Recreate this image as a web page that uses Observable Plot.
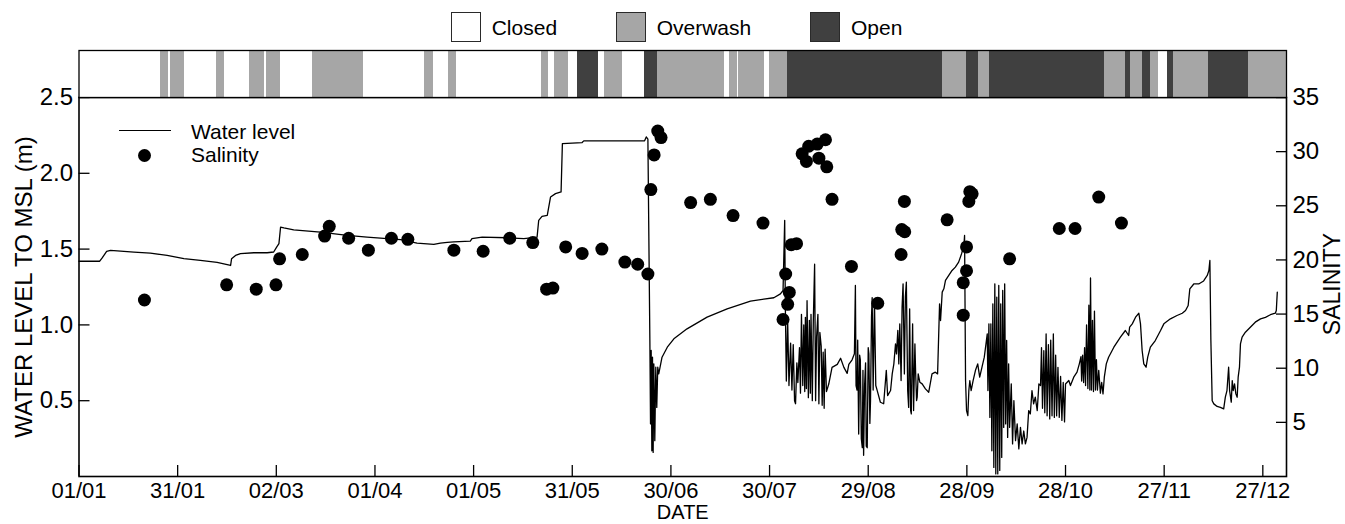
<!DOCTYPE html>
<html><head><meta charset="utf-8">
<script src="https://cdn.jsdelivr.net/npm/d3@7"></script>
<script src="https://cdn.jsdelivr.net/npm/@observablehq/plot@0.6"></script>
<style>
body{margin:0;background:#fff;font-family:"Liberation Sans",Arial,sans-serif;}
#wrap{position:relative;width:1345px;height:524px;overflow:hidden;background:#fff;}
#wrap svg{position:absolute;left:0;top:0;}
.lg{position:absolute;font-size:21px;line-height:21px;color:#000;white-space:nowrap;}
.sw{position:absolute;width:30px;height:30px;box-sizing:border-box;border:1.5px solid #2a2a2a;}
</style></head><body><div id="wrap"></div>
<script>
// x = day of year (0 = 01/01), non-leap year
const xTickDays = [0, 30, 60, 90, 120, 150, 180, 210, 240, 270, 300, 330, 360];
const xTickLabels = ["01/01","31/01","02/03","01/04","01/05","31/05","30/06","30/07","29/08","28/09","28/10","27/11","27/12"];
const levelTicks = [0.5, 1.0, 1.5, 2.0, 2.5];
const salinityTicks = [5, 10, 15, 20, 25, 30, 35];

const stateNames = ["Closed", "Overwash", "Open"];
const stateColors = ["#ffffff", "#a6a6a6", "#404040"];

// [start day, end day, state]
const stateSegments = [
  [0,24.8,"Closed"],[24.8,27.1,"Overwash"],[27.1,27.8,"Closed"],[27.8,32.1,"Overwash"],
  [32.1,41.8,"Closed"],[41.8,44.2,"Overwash"],[44.2,51.8,"Closed"],[51.8,56.4,"Overwash"],
  [56.4,57.0,"Closed"],[57.0,61.3,"Overwash"],[61.3,71.0,"Closed"],[71.0,86.5,"Overwash"],
  [86.5,105.1,"Closed"],[105.1,107.8,"Overwash"],[107.8,112.4,"Closed"],[112.4,114.8,"Overwash"],
  [114.8,140.6,"Closed"],[140.6,142.9,"Overwash"],[142.9,144.6,"Closed"],[144.6,148.8,"Overwash"],
  [148.8,151.6,"Closed"],[151.6,158.0,"Open"],[158.0,159.8,"Closed"],[159.8,165.3,"Overwash"],
  [165.3,172.0,"Closed"],[172.0,175.9,"Open"],[175.9,196.3,"Overwash"],[196.3,197.9,"Closed"],
  [197.9,200.2,"Overwash"],[200.2,200.5,"Closed"],[200.5,208.4,"Overwash"],[208.4,210.1,"Closed"],
  [210.1,215.6,"Overwash"],[215.6,262.5,"Open"],[262.5,269.9,"Overwash"],[269.9,273.5,"Open"],
  [273.5,277.0,"Overwash"],[277.0,311.8,"Open"],[311.8,318.2,"Overwash"],[318.2,319.7,"Open"],
  [319.7,323.4,"Overwash"],[323.4,325.8,"Open"],[325.8,328.3,"Overwash"],[328.3,331.0,"Closed"],
  [331.0,332.8,"Open"],[332.8,343.5,"Overwash"],[343.5,355.6,"Open"],[355.6,367.2,"Overwash"]
];

// [day, water level to MSL (m)]
const waterLevel = [
  [0,1.42],[6.3,1.42],[7.0,1.44],[8.4,1.485],[9.6,1.491],[16.7,1.48],[21.7,1.474],[26.8,1.458],
  [31.9,1.437],[36.9,1.425],[42.0,1.412],[46.1,1.392],[46.4,1.437],[47.6,1.458],[49.1,1.47],
  [53.2,1.476],[57.2,1.476],[59.2,1.481],[60.1,1.513],[60.8,1.536],[61.3,1.645],[62.3,1.64],
  [65.3,1.627],[73.4,1.612],[81.6,1.59],[87.6,1.579],[92.7,1.571],[97.8,1.562],[102.8,1.54],
  [107.9,1.531],[109.9,1.54],[112.0,1.545],[114.0,1.547],[119.0,1.553],[119.5,1.569],[122.6,1.579],
  [130.2,1.575],[135.3,1.569],[139.3,1.579],[139.8,1.69],[140.8,1.716],[142.4,1.723],[143.4,1.844],
  [144.9,1.866],[146.6,1.877],[147.0,2.196],[153.0,2.203],[153.5,2.214],[172.0,2.214],[172.5,2.24],
  [173.0,2.225],[173.6,0.897],[173.8,0.347],[174.0,0.831],[174.2,0.17],[174.4,0.787],[174.6,0.159],
  [174.8,0.743],[175.1,0.236],[175.4,0.721],[175.7,0.456],[176.0,0.721],[176.3,0.677],[177.3,0.787],
  [178.9,0.853],[180.9,0.908],[184.9,0.974],[191.0,1.051],[197.1,1.106],[204.2,1.157],[211.3,1.179],
  [213.3,1.205],[214.1,1.227],[214.6,1.69],[214.8,1.12],[215.1,0.63],[215.5,1.03],[215.9,0.6],
  [216.4,0.88],[216.8,0.57],[217.2,0.87],[217.6,0.5],[217.9,0.48],[218.3,0.75],[218.6,0.62],
  [219.1,0.85],[219.4,0.55],[219.7,1.07],[220.1,0.6],[220.4,1.0],[220.7,0.56],[220.9,1.05],
  [221.2,0.58],[221.4,1.16],[221.8,0.52],[222.1,1.03],[222.4,0.55],[222.6,1.07],[223.0,0.5],
  [223.3,1.02],[223.7,1.4],[224.0,0.5],[224.3,0.92],[224.7,1.07],[225.0,0.48],[225.3,0.95],
  [225.7,0.86],[226.0,0.47],[226.3,0.82],[226.6,0.45],[226.9,0.84],[227.3,0.56],[228.0,0.61],
  [229.0,0.72],[230.6,0.74],[231.6,0.78],[232.6,0.72],[233.6,0.68],[234.1,0.74],[235.1,0.77],
  [235.8,0.81],[236.1,1.26],[236.3,0.6],[236.6,0.57],[236.8,0.9],[237.1,0.28],[237.4,0.8],
  [237.6,0.77],[237.9,0.25],[238.2,0.19],[238.4,0.7],[238.6,0.14],[238.9,0.6],[239.2,0.75],
  [239.4,0.2],[239.7,0.19],[240.0,0.85],[240.2,0.81],[240.5,0.35],[240.7,0.5],[241.0,1.05],
  [241.2,1.18],[241.5,0.57],[241.9,1.16],[242.3,0.6],[242.7,0.57],[243.7,0.49],[244.7,0.48],
  [245.5,0.7],[245.9,0.534],[246.8,0.567],[247.3,0.677],[247.8,0.743],[248.3,0.875],[248.6,0.809],
  [249.0,0.963],[249.3,0.743],[249.6,1.007],[250.0,0.633],[250.3,1.117],[250.6,1.271],[251.0,0.677],
  [251.3,1.183],[251.6,1.282],[252.0,0.567],[252.3,0.456],[252.6,1.106],[252.9,0.435],[253.1,0.413],
  [253.5,1.007],[253.8,0.435],[254.2,0.875],[254.4,0.699],[254.7,0.501],[254.9,0.523],[255.2,0.677],
  [255.7,0.622],[256.4,0.611],[257.4,0.578],[258.4,0.556],[259.4,0.677],[260.4,0.688],[261.1,0.677],
  [261.7,1.139],[262.0,1.029],[262.5,1.216],[263.0,1.238],[263.5,1.293],[264.5,1.326],[265.5,1.359],
  [266.5,1.381],[267.5,1.414],[268.4,1.47],[269.1,1.524],[269.3,1.59],[269.6,0.633],[269.9,0.435],
  [270.3,0.402],[270.6,0.567],[270.9,0.633],[271.3,0.567],[271.9,0.633],[272.6,0.699],[273.3,0.743],
  [273.9,0.655],[274.6,0.721],[275.3,0.787],[276.2,0.941],[276.4,0.567],[276.7,1.007],[277.0,0.39],
  [277.3,1.007],[277.6,0.17],[277.9,1.139],[278.2,0.06],[278.5,1.271],[278.8,0.017],[279.1,1.183],
  [279.4,0.017],[279.7,1.26],[280.0,0.04],[280.3,1.139],[280.6,0.126],[280.9,1.227],[281.2,0.324],
  [281.5,1.271],[281.8,0.347],[282.1,0.897],[282.4,0.258],[282.7,0.743],[283.0,0.324],[283.5,0.611],
  [283.9,0.215],[284.3,0.501],[284.8,0.236],[285.3,0.347],[285.8,0.182],[286.3,0.324],[286.8,0.215],
  [287.3,0.3],[287.8,0.215],[288.3,0.258],[288.8,0.435],[289.3,0.413],[289.8,0.567],[290.3,0.479],
  [290.8,0.523],[291.4,0.435],[291.9,0.611],[292.4,0.6],[292.7,0.85],[293.0,0.45],[293.4,0.83],
  [293.7,0.42],[294.1,0.94],[294.4,0.4],[294.8,0.87],[295.2,0.38],[295.5,0.9],[295.9,0.4],
  [296.3,0.94],[296.6,0.39],[297.0,0.8],[297.3,0.4],[297.7,0.72],[298.1,0.39],[298.5,0.66],
  [298.9,0.37],[299.3,0.62],[299.7,0.36],[300.0,0.61],[301.0,0.633],[301.5,0.6],[302.5,0.655],
  [303.5,0.688],[304.2,0.743],[304.7,0.79],[304.9,0.63],[305.2,0.8],[305.5,0.62],[305.8,0.85],
  [306.1,0.6],[306.4,1.0],[306.8,0.58],[307.1,1.13],[307.4,0.57],[307.6,1.31],[307.9,0.57],
  [308.2,1.03],[308.5,0.56],[308.8,1.09],[309.1,0.57],[309.4,0.77],[309.7,0.57],[310.1,0.7],
  [310.6,0.55],[311.0,0.62],[311.4,0.545],[311.8,0.655],[312.4,0.743],[313.1,0.787],[314.7,0.853],
  [316.7,0.92],[318.2,0.963],[319.2,0.93],[319.5,0.985],[320.3,1.007],[321.3,1.051],[322.3,1.077],
  [322.8,1.007],[323.3,0.831],[323.8,0.743],[324.5,0.721],[325.0,0.787],[325.8,0.853],[327.3,0.897],
  [328.9,0.963],[329.9,1.007],[331.9,1.04],[333.9,1.062],[335.5,1.077],[336.5,1.095],[337.3,1.128],
  [337.8,1.238],[339.0,1.27],[340.5,1.27],[342.0,1.29],[343.1,1.326],[343.6,1.36],[343.9,1.425],
  [344.2,0.9],[344.6,0.5],[345.1,0.479],[346.1,0.462],[347.1,0.456],[348.1,0.446],[348.6,0.523],
  [349.1,0.567],[349.6,0.721],[349.9,0.567],[350.4,0.49],[350.7,0.633],[351.0,0.567],[351.4,0.611],
  [351.8,0.545],[352.2,0.523],[352.5,0.655],[352.9,0.721],[353.2,0.875],[353.7,0.92],[354.7,0.952],
  [356.2,0.985],[357.7,1.018],[359.3,1.04],[360.8,1.05],[362.3,1.067],[363.8,1.077],[364.1,1.095],
  [364.4,1.216]
];

// [day, salinity]
const salinity = [
  [19.9,16.3],[44.9,17.7],[53.9,17.3],[59.9,17.7],[61.0,20.1],[67.9,20.5],[74.7,22.2],[76.1,23.1],
  [82.0,22.0],[88.0,20.9],[95.0,22.0],[100.0,21.9],[114.0,20.9],[122.9,20.8],[131.0,22.0],[138.0,21.6],
  [142.2,17.3],[144.1,17.4],[148.0,21.2],[153.0,20.6],[159.0,21.0],[166.0,19.8],[169.9,19.6],[173.0,18.7],
  [173.9,26.5],[174.9,29.7],[176.0,31.9],[177.0,31.3],[186.0,25.3],[192.0,25.6],[198.9,24.1],[208.0,23.4],
  [214.1,14.5],[214.9,18.7],[215.5,15.9],[216.0,17.0],[216.6,21.4],[218.2,21.5],[219.9,29.8],[221.2,29.1],
  [221.9,30.5],[224.5,30.7],[225.0,29.4],[227.0,31.1],[227.4,28.6],[229.0,25.6],[234.9,19.4],[242.9,16.0],
  [250.0,20.5],[250.2,22.8],[251.1,22.6],[251.0,25.4],[264.0,23.7],[268.9,14.9],[268.9,17.9],[269.9,19.0],
  [269.9,21.2],[270.6,25.4],[270.9,26.3],[271.6,26.1],[283.0,20.1],[298.1,22.9],[302.9,22.9],[310.1,25.8],
  [317.0,23.4]
];

const xDomain = [0, 367.2];
const levelDomain = [0, 2.5];
const salinityMax = 35;
const K = levelDomain[1] / salinityMax; // salinity units -> level units (right axis)

const FONT = '"Liberation Sans", Arial, Helvetica, sans-serif';
const wrap = document.getElementById("wrap");

const main = Plot.plot({
  width: 1345, height: 524,
  marginLeft: 78.5, marginRight: 59, marginTop: 97, marginBottom: 48,
  x: {domain: xDomain},
  y: {domain: levelDomain},
  style: {fontFamily: FONT, fontSize: "24px", color: "black", background: "transparent", overflow: "visible"},
  marks: [
    Plot.line(waterLevel, {x: d => d[0], y: d => d[1], stroke: "black", strokeWidth: 1.3}),
    Plot.dot(salinity, {x: d => d[0], y: d => d[1] * K, r: 6.5, fill: "black", stroke: null}),
    Plot.axisX(xTickDays, {tickSize: -11, tickPadding: 17, strokeWidth: 1.3, fontSize: 22,
      tickFormat: d => xTickLabels[xTickDays.indexOf(d)], label: null}),
    Plot.axisY(levelTicks, {anchor: "left", tickSize: -11, tickPadding: 17, strokeWidth: 1.3, fontSize: 24,
      tickFormat: d3.format(".1f"), label: null}),
    Plot.axisY(salinityTicks.map(s => s * K), {anchor: "right", tickSize: -11, tickPadding: 17, strokeWidth: 1.3, fontSize: 24,
      tickFormat: d => String(Math.round(d / K)), label: null}),
    Plot.frame({stroke: "black", strokeWidth: 1.6}),
    Plot.text(["WATER LEVEL TO MSL (m)"], {frameAnchor: "left", textAnchor: "middle", lineAnchor: "middle", rotate: -90, dx: -55, fontSize: 24}),
    Plot.text(["SALINITY"], {frameAnchor: "right", textAnchor: "middle", lineAnchor: "middle", rotate: -90, dx: 46, dy: -3, fontSize: 23}),
    Plot.text(["DATE"], {frameAnchor: "bottom", textAnchor: "middle", lineAnchor: "middle", dy: 36, fontSize: 20})
  ]
});
wrap.appendChild(main);

const bar = Plot.plot({
  width: 1345, height: 97,
  marginLeft: 78.5, marginRight: 59, marginTop: 50, marginBottom: 0,
  x: {domain: xDomain, axis: null},
  color: {domain: stateNames, range: stateColors},
  style: {background: "transparent", overflow: "visible"},
  marks: [
    Plot.rect(stateSegments, {x1: d => d[0], x2: d => d[1], fill: d => d[2], shapeRendering: "crispEdges"}),
    Plot.frame({stroke: "black", strokeWidth: 1.3})
  ]
});
wrap.appendChild(bar);

// top legend (states)
const legendLeft = [450.7, 615.7, 810];
stateNames.forEach((name, i) => {
  const sw = document.createElement("div");
  sw.className = "sw";
  sw.style.left = legendLeft[i] + "px";
  sw.style.top = "12px";
  sw.style.background = stateColors[i];
  wrap.appendChild(sw);
  const t = document.createElement("div");
  t.className = "lg";
  t.textContent = name;
  t.style.left = (legendLeft[i] + 41) + "px";
  t.style.top = "17px";
  wrap.appendChild(t);
});

// inner legend (series)
const ln = document.createElement("div");
ln.style.cssText = "position:absolute;left:119px;top:129.5px;width:52px;height:1.4px;background:#000;";
wrap.appendChild(ln);
const dt = document.createElement("div");
dt.style.cssText = "position:absolute;left:138px;top:149px;width:13px;height:13px;border-radius:50%;background:#000;";
wrap.appendChild(dt);
[["Water level", 121], ["Salinity", 144]].forEach(([s, top]) => {
  const t = document.createElement("div");
  t.className = "lg";
  t.textContent = s;
  t.style.left = "191px";
  t.style.top = top + "px";
  wrap.appendChild(t);
});
</script></body></html>
